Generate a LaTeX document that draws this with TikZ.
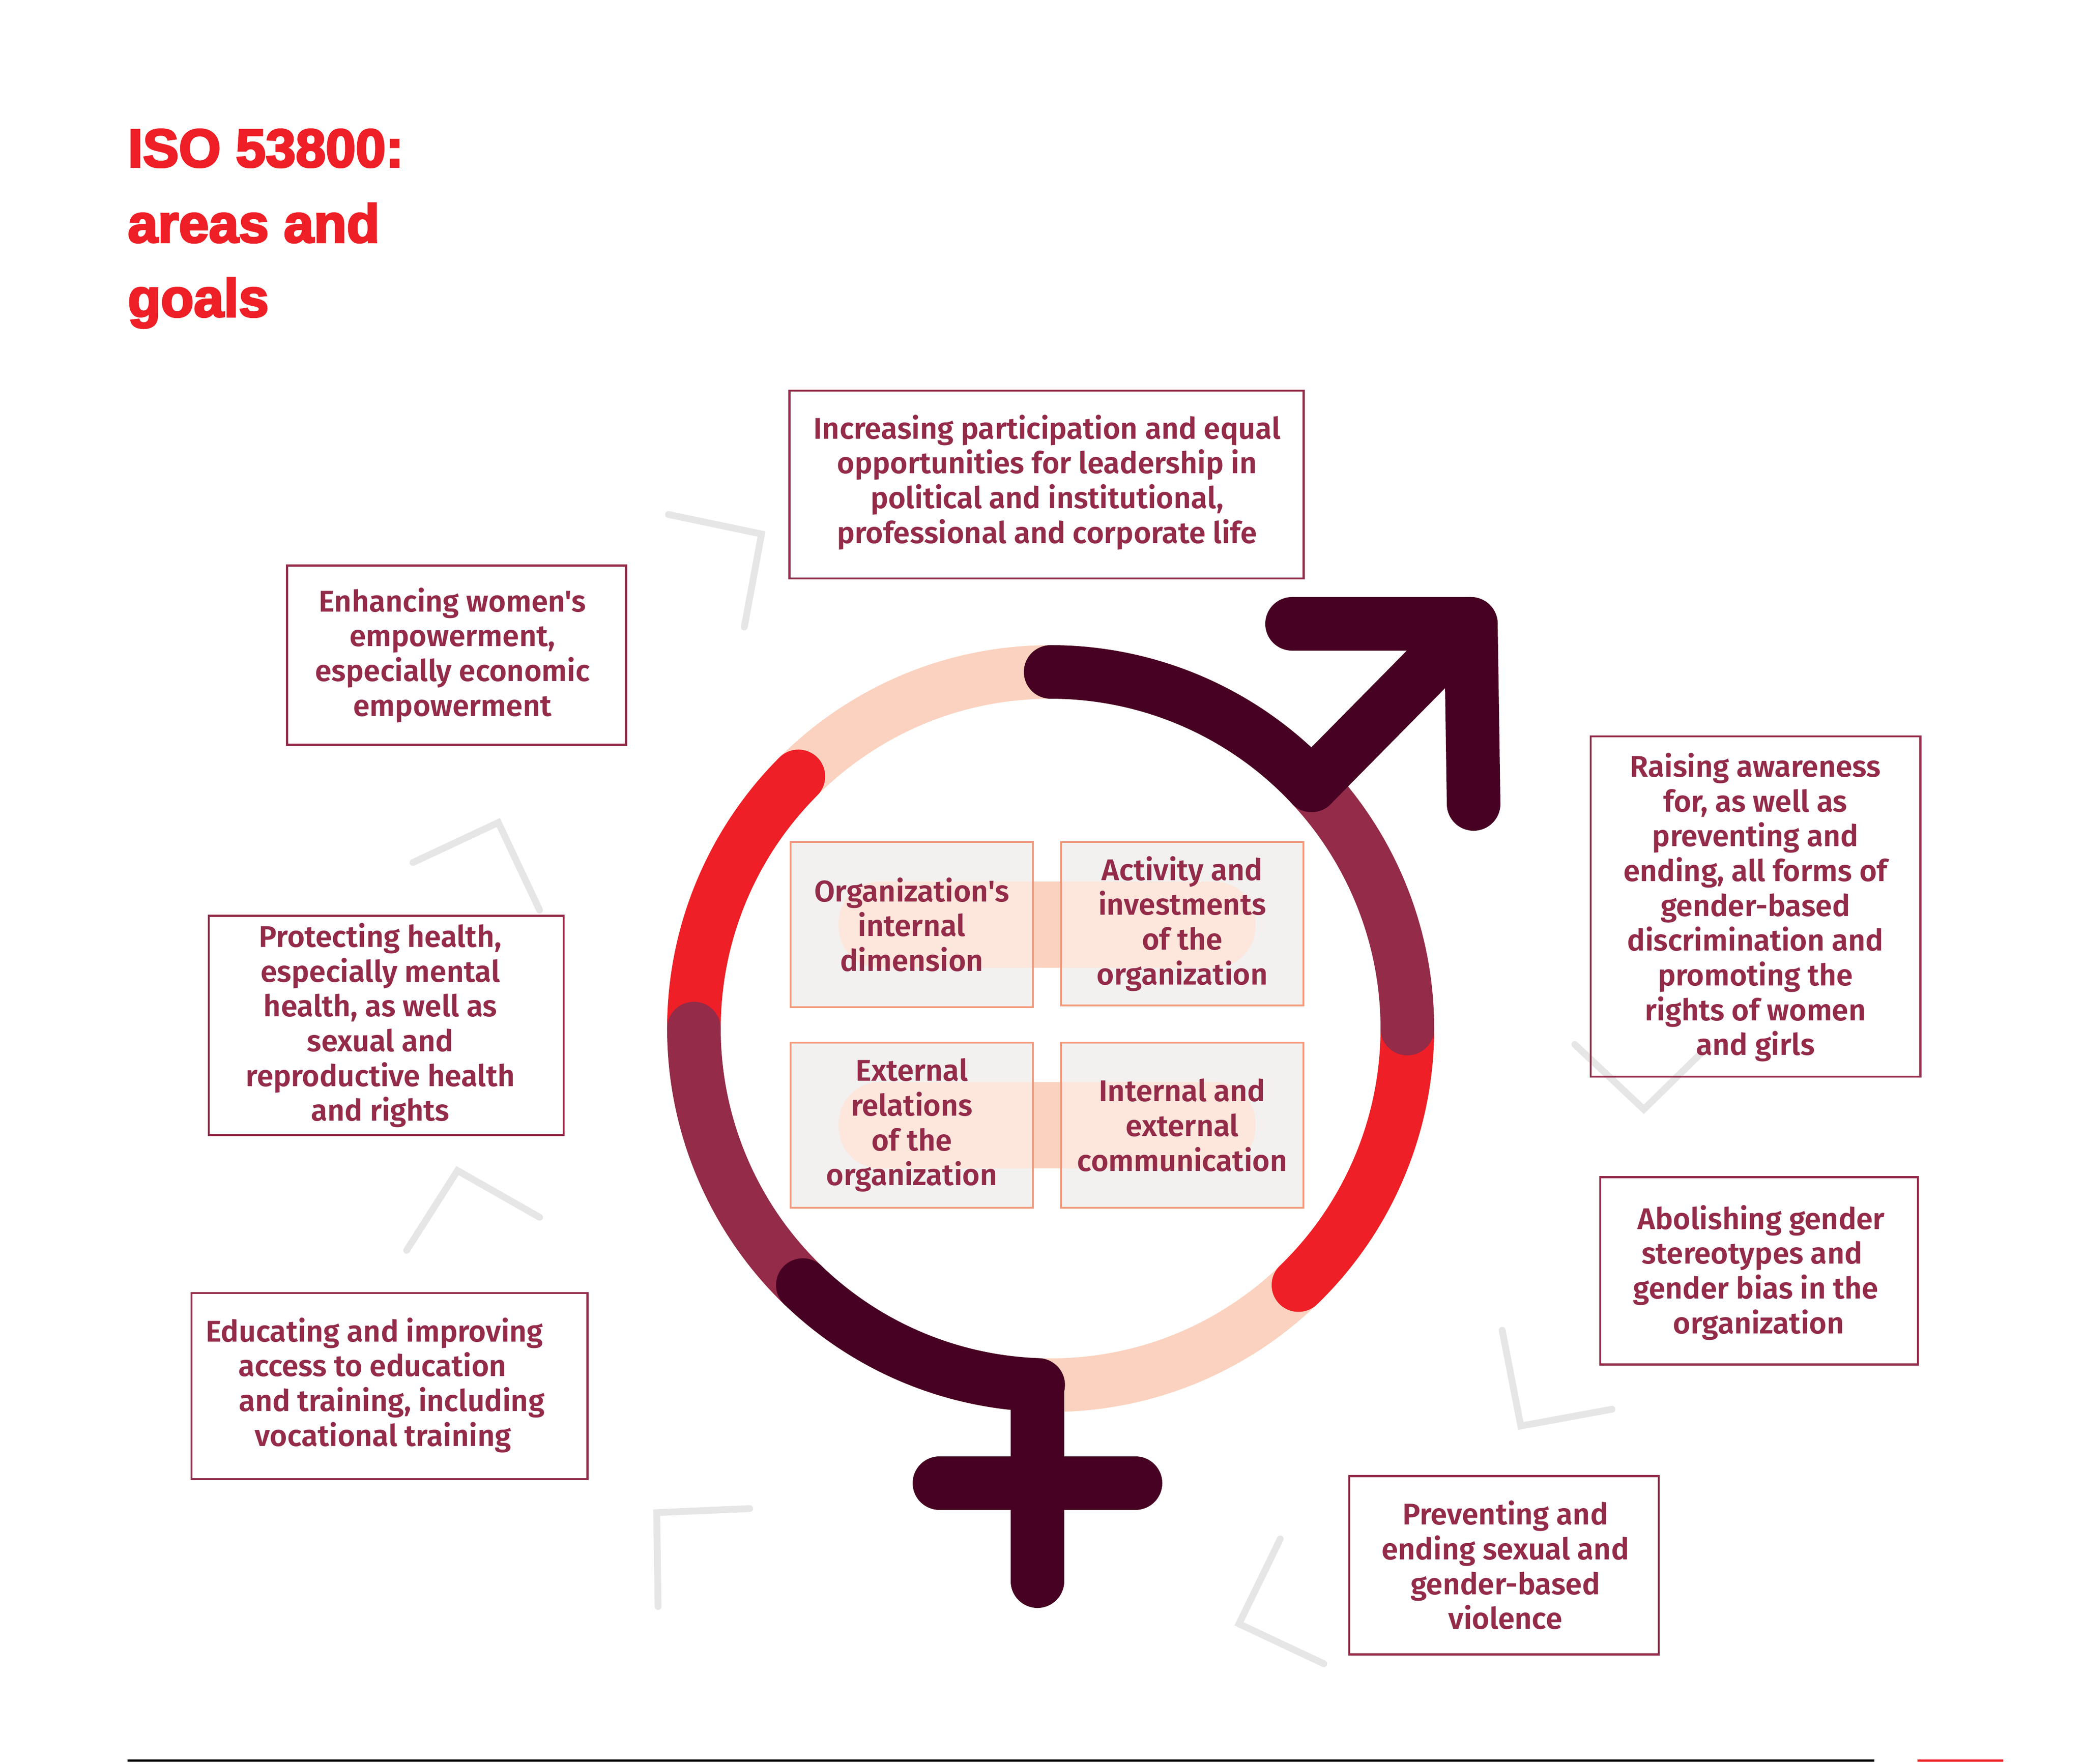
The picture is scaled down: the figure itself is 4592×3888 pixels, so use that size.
\documentclass[tikz,border=0pt]{standalone}
\usepackage{fontspec}
\newfontfamily\boxfont{Fira Sans}[BoldFont={* SemiBold}]
\newfontfamily\titlefont{Liberation Sans Bold}[FakeBold=3.5]
\definecolor{titlered}{HTML}{EE1F26}
\definecolor{ringdark}{HTML}{470122}
\definecolor{ringmauve}{HTML}{932B49}
\definecolor{ringpeach}{HTML}{FBD2BF}
\definecolor{panelgray}{HTML}{F2F1EF}
\definecolor{panelpale}{HTML}{FDE6DC}
\definecolor{panelline}{HTML}{F29A7C}
\definecolor{chevgray}{HTML}{E6E6E6}
\tikzset{
	goalbox/.style={draw=ringmauve, line width=0.045cm, inner sep=0pt},
	goaltext/.style={text=ringmauve, align=center, font=\boxfont\bfseries\fontsize{18.75}{21.8}\selectfont, inner sep=0pt},
	areabox/.style={draw=panelline, line width=0.04cm, text=ringmauve, align=center, font=\boxfont\bfseries\fontsize{18.75}{21.8}\selectfont, inner sep=0pt, minimum width=5.34cm, minimum height=3.64cm},
	ringarc/.style={line width=1.18cm, line cap=round},
	chevron/.style={draw=chevgray, line width=0.15cm, line cap=round, line join=miter},
	titleline/.style={text=titlered, anchor=base west, font=\titlefont\fontsize{33.8}{40}\selectfont, inner sep=0pt}
}

\begin{document}
\begin{tikzpicture}[x=0.01cm, y=-0.01cm]
	\useasboundingbox (0, 0) rectangle (4592, 3888);

	% title
	\node (title1) at (281, 368) [titleline] {ISO 53800:};
	\node (title2) at (281, 534) [titleline] {areas and};
	\node (title3) at (281, 698) [titleline] {goals};

	% chevrons behind the boxes
	\draw[chevron] (1473, 1134) -- (1678, 1177) -- (1640, 1382);
	\draw[chevron] (910, 1901) -- (1098, 1813) -- (1189, 2006);
	\draw[chevron] (896, 2756) -- (1008, 2580) -- (1189, 2683);
	\draw[chevron] (1652, 3325) -- (1447, 3334) -- (1450, 3541);
	\draw[chevron] (2917, 3667) -- (2730, 3579) -- (2821, 3392);
	\draw[chevron] (3552, 3106) -- (3351, 3143) -- (3310, 2932);
	\draw[chevron] (3470, 2302) -- (3622, 2445) -- (3765, 2305);

	% ring
	\draw[ringpeach, line width=1.18cm] (2315, 2267) circle (786);
	\draw[titlered, ringarc] (2315, 2267) ++(135:786 and -786) arc (135:180:786 and -786);
	\draw[titlered, ringarc] (2315, 2267) ++(0:786 and -786) arc (0:-46:786 and -786);
	\draw[ringmauve, ringarc] (2315, 2267) ++(180:786 and -786) arc (180:226:786 and -786);
	\draw[ringmauve, ringarc] (2315, 2267) ++(43:786 and -786) arc (43:0:786 and -786);
	\draw[ringdark, ringarc] (2315, 2267) ++(226:786 and -786) arc (226:268:786 and -786);
	\draw[ringdark, ringarc] (2315, 2267) ++(90:786 and -786) arc (90:43:786 and -786) coordinate (arrowfoot);
	\draw[ringdark, ringarc, line join=round] (2847, 1375) -- (3241, 1375) -- (3247, 1772);
	\draw[ringdark, ringarc] (arrowfoot) -- (3241, 1375);
	\draw[ringdark, ringarc] (2286, 3055) -- (2286, 3485);
	\draw[ringdark, ringarc] (2070, 3269) -- (2502, 3269);

	% panels in the ring
	\foreach \rowy in {2038, 2480} {
		\fill[panelgray] (1742, \rowy-182) rectangle (2276, \rowy+182);
		\fill[panelgray] (2337, \rowy-182) rectangle (2873, \rowy+182);
		\fill[panelpale, rounded corners=0.9cm] (1848, \rowy-95) rectangle (2766, \rowy+95);
		\fill[ringpeach] (2276, \rowy-95) rectangle (2337, \rowy+95);
	}
	\node (internal) at (2009, 2038) [areabox] {Organization's\\internal\\dimension};
	\node (activity) at (2605, 2036) [areabox, minimum height=3.6cm] {Activity and\\investments\\of the\\organization};
	\node (external) at (2009, 2480) [areabox] {External\\relations\\of the\\organization};
	\node (communication) at (2605, 2480) [areabox] {Internal and\\external\\communication};

	% goal frames
	\node (participationbox) at (2306, 1068) [goalbox, minimum width=11.32cm, minimum height=4.14cm] {};
	\node (empowermentbox) at (1006, 1444) [goalbox, minimum width=7.47cm, minimum height=3.95cm] {};
	\node (healthbox) at (851, 2260) [goalbox, minimum width=7.82cm, minimum height=4.83cm] {};
	\node (educationbox) at (858, 3055) [goalbox, minimum width=8.72cm, minimum height=4.1cm] {};
	\node (awarenessbox) at (3868, 1998) [goalbox, minimum width=7.26cm, minimum height=7.5cm] {};
	\node (stereotypesbox) at (3876, 2801) [goalbox, minimum width=7cm, minimum height=4.13cm] {};
	\node (violencebox) at (3314, 3450) [goalbox, minimum width=6.82cm, minimum height=3.93cm] {};

	% goal texts
	\node (participation) at (2307, 1063) [goaltext] {Increasing participation and equal\\opportunities for leadership in\\political and institutional,\\professional and corporate life};
	\node (empowerment) at (997, 1444) [goaltext] {Enhancing women's\\empowerment,\\especially economic\\empowerment};
	\node (health) at (838, 2260) [goaltext] {Protecting health,\\especially mental\\health, as well as\\sexual and\\reproductive health\\and rights};
	\node (education) at (835, 3053) [goaltext] {\hspace*{-0.2cm}Educating and improving\\\hspace*{-0.29cm}access to education\\\hspace*{0.56cm}and training, including\\\hspace*{0.18cm}vocational training};
	\node (awareness) at (3868, 2000) [goaltext] {Raising awareness\\for, as well as\\preventing and\\ending, all forms of\\gender-based\\discrimination and\\promoting the\\rights of women\\and girls};
	\node (stereotypes) at (3875, 2805) [goaltext] {\hspace*{0.12cm}Abolishing gender\\\hspace*{-0.29cm}stereotypes and\\\hspace*{-0.12cm}gender bias in the\\organization};
	\node (violence) at (3317, 3450) [goaltext] {Preventing and\\ending sexual and\\gender-based\\violence};

	% footer rules
	\fill[black] (281, 3878) rectangle (4130, 3883);
	\fill[titlered] (4225, 3878) rectangle (4414, 3883);
\end{tikzpicture}
\end{document}
